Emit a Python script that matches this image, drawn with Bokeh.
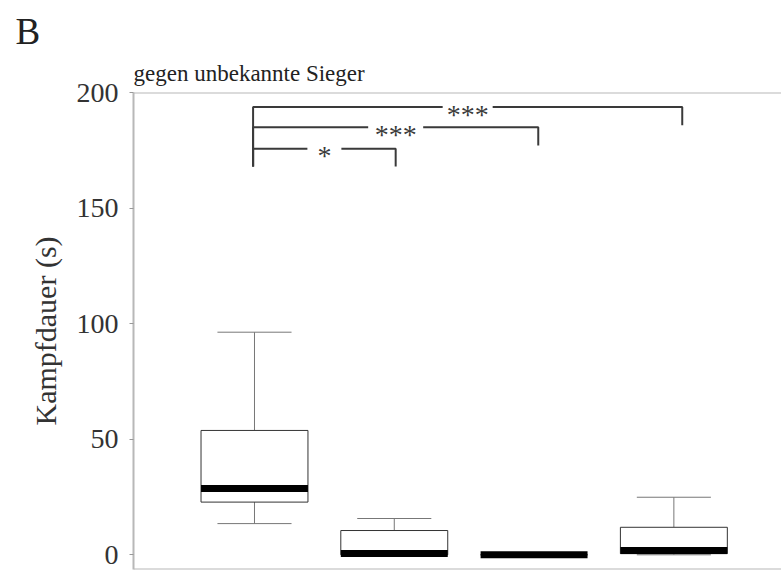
from bokeh.plotting import figure
from bokeh.models import Range1d, Span, Title, FixedTicker
from bokeh.embed import file_html
from bokeh.resources import INLINE
from bokeh.core.properties import value

# ---- data ----
positions = [1, 2, 3, 4]
lower_whisker = [13.5, 0.0, 0.0, 0.0]
q1 = [22.8, 0.0, 0.0, 0.5]
median = [28.7, 0.6, 0.0, 1.9]
q3 = [53.8, 10.5, 0.0, 11.9]
upper_whisker = [96.3, 15.7, 0.0, 24.9]

y_ticks = [0, 50, 100, 150, 200]

bracket_start = [0.99, 0.99, 0.99]
bracket_end = [2.01, 3.03, 4.06]
bracket_level = [175.7, 185.0, 193.7]
bracket_start_drop = [168.0, 168.0, 168.0]
bracket_end_drop = [168.0, 177.1, 185.8]
bracket_labels = ["*", "***", "***"]

panel_letter = "B"
subtitle = "gegen unbekannte Sieger"
y_label = "Kampfdauer (s)"

# ---- styles ----
FONT = "Liberation Serif"
box_width = 0.765
cap_width = 0.53
gap_px = [34, 55, 50]

p = figure(width=781, height=571, title=None,
           x_range=Range1d(0.1345, 4.77), y_range=Range1d(-6.36, 200),
           x_axis_location=None,
           output_backend="svg", toolbar_location=None,
           min_border_left=133, min_border_top=92,
           min_border_right=0, min_border_bottom=2)
p.xgrid.visible = False
p.ygrid.visible = False
p.outline_line_color = None
p.background_fill_color = "white"
p.border_fill_color = "white"

ax = p.yaxis[0]
ax.ticker = FixedTicker(ticks=y_ticks)
ax.major_tick_out = 4
ax.major_tick_in = 0
ax.minor_tick_line_color = None
ax.axis_line_color = "#b8b8b8"
ax.axis_line_width = 2
ax.major_tick_line_color = "#999999"
ax.major_label_text_font = FONT
ax.major_label_text_font_size = "28px"
ax.major_label_text_color = "#333333"
ax.major_label_standoff = 11
ax.axis_label = y_label
ax.axis_label_text_font = FONT
ax.axis_label_text_font_size = "30px"
ax.axis_label_text_font_style = "normal"
ax.axis_label_text_color = "#333333"
ax.axis_label_standoff = 12

# frame lines top and bottom
p.add_layout(Span(location=200, dimension="width", line_color="#b8b8b8", line_width=2))
p.add_layout(Span(location=-6.36, dimension="width", line_color="#b8b8b8", line_width=2))

# whiskers
p.segment(x0=positions, y0=q3, x1=positions, y1=upper_whisker, line_color="#777777", line_width=1)
p.segment(x0=positions, y0=q1, x1=positions, y1=lower_whisker, line_color="#777777", line_width=1)
p.segment(x0=[x - cap_width / 2 for x in positions], y0=upper_whisker,
          x1=[x + cap_width / 2 for x in positions], y1=upper_whisker,
          line_color="#777777", line_width=1)
p.segment(x0=[x - cap_width / 2 for x in positions], y0=lower_whisker,
          x1=[x + cap_width / 2 for x in positions], y1=lower_whisker,
          line_color="#777777", line_width=1)

# boxes
p.quad(left=[x - box_width / 2 for x in positions], right=[x + box_width / 2 for x in positions],
       bottom=q1, top=q3, fill_color="white", line_color="#333333", line_width=1)
# medians
p.rect(x=positions, y=median, width=box_width, height=7, height_units="screen",
       fill_color="black", line_color=None)

# significance brackets
xs = [[s, s, e, e] for s, e in zip(bracket_start, bracket_end)]
ys = [[sd, lv, lv, ed] for sd, lv, ed in zip(bracket_start_drop, bracket_level, bracket_end_drop)]
p.multi_line(xs=xs, ys=ys, line_color="#3a3a3a", line_width=2)
mids = [(s + e) / 2 for s, e in zip(bracket_start, bracket_end)]
p.rect(x=mids, y=bracket_level, width=gap_px, height=12, width_units="screen",
       height_units="screen", fill_color="white", line_color=None)
p.text(x=mids, y=bracket_level, text=bracket_labels, text_font=value(FONT),
       text_font_size="28px", text_align="center", text_baseline="middle",
       y_offset=7, text_color="#3a3a3a")

# subtitle (closest to frame) and panel letter above it
p.add_layout(Title(text=subtitle, text_font=FONT, text_font_size="23px",
                   text_font_style="normal", text_color="#222222",
                   align="left", offset=0, standoff=14), "above")
p.add_layout(Title(text=panel_letter, text_font=FONT, text_font_size="37px",
                   text_font_style="normal", text_color="#222222",
                   align="left", offset=-118, standoff=0), "above")

open("out.html", "w").write(file_html(p, INLINE))
